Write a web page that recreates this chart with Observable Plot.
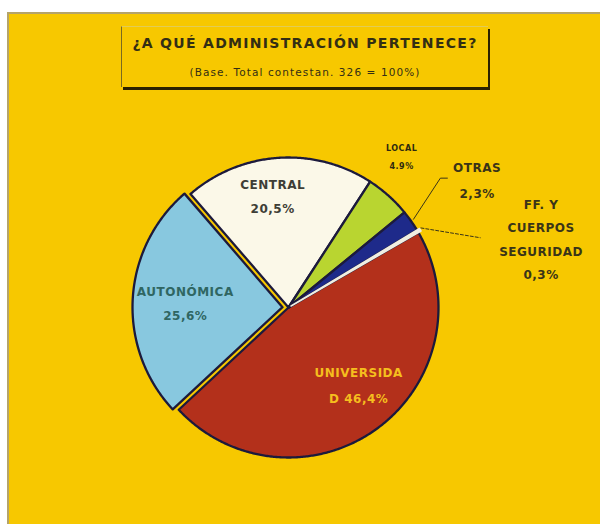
<!DOCTYPE html>
<html><head><meta charset="utf-8">
<script src="https://cdn.jsdelivr.net/npm/d3@7"></script>
<script src="https://cdn.jsdelivr.net/npm/@observablehq/plot@0.6"></script>
<style>
html,body{margin:0;padding:0;background:#fff;}
#wrap{position:relative;width:600px;height:524px;overflow:hidden;font-family:"DejaVu Sans",sans-serif;}
#panel{position:absolute;left:7px;top:12px;width:600px;height:520px;background:#F7C800;border-left:2px solid #b5a46a;border-top:2px solid #b5a46a;}
#titlebox{position:absolute;left:121px;top:26px;width:366px;height:60px;background:#F7C800;border-left:1px solid #7a6a20;border-top:1px solid #e2cc55;box-shadow:2px 3px 0 #2b2200;text-align:center;color:#332e14;}
#t1{position:absolute;left:0;right:0;top:8px;font-size:14px;font-weight:bold;letter-spacing:1.3px;}
#t2{position:absolute;left:0;right:0;top:39px;font-size:10.5px;letter-spacing:1.1px;}
#chart{position:absolute;left:0;top:0;}
</style>
</head><body>
<div id="wrap">
  <div id="panel"></div>
  <div id="chart"></div>
  <div id="titlebox"><div id="t1"></div><div id="t2"></div></div>
</div>
<script>
// ---- data ----
const title = "¿A QUÉ ADMINISTRACIÓN PERTENECE?";
const subtitle = "(Base. Total contestan. 326 = 100%)";
const categories = ["UNIVERSIDA\nD", "AUTONÓMICA", "CENTRAL", "LOCAL", "OTRAS", "FF. Y\nCUERPOS\nSEGURIDAD"];
const values = [46.4, 25.6, 20.5, 4.9, 2.3, 0.3];
const valueLabels = ["46,4%", "25,6%", "20,5%", "4.9%", "2,3%", "0,3%"];

// ---- styles / layout ----
const colors = ["#B3301B", "#88C8DF", "#FBF8E8", "#B9D530", "#1E2A8A", "#F1EEE2"];
const textColors = ["#F5BE1E", "#2F6662", "#3e3e36", "#2e2a10", "#3a3418", "#3a3418"];
const fontSizes = [12, 12, 12, 8, 12, 12];
const lineHeights = [2.2, 2.0, 2.0, 2.3, 2.2, 1.95];
const joiners = [" ", "\n", "\n", "\n", "\n", "\n"];
const explode = [0, 6, 0, 0, 0, 3];
const labelShift = [-7, 1, -4, -5.4, 0.5, 15];   // degrees
const labelRadius = [0.68, 0.65, 0.77, 1.27, 1.53, 1.73];
const cx = 288, cy = 307, R = 150;
const startDeg = 60;

document.getElementById("t1").textContent = title;
document.getElementById("t2").textContent = subtitle;

const rad = d => d * Math.PI / 180;
const arcs = d3.pie().sort(null).value(d => d)
  .startAngle(rad(startDeg)).endAngle(rad(startDeg) + 2 * Math.PI)(values);

const pt = (a, r, ox = 0, oy = 0) => ({x: cx + ox + r * Math.sin(a), y: cy + oy - r * Math.cos(a)});

const marks = [];
arcs.forEach((a, i) => {
  const mid = (a.startAngle + a.endAngle) / 2;
  const ox = explode[i] * Math.sin(mid), oy = -explode[i] * Math.cos(mid);
  const n = Math.max(2, Math.ceil((a.endAngle - a.startAngle) / rad(0.5)));
  const pts = [pt(0, 0, ox, oy)];
  for (let k = 0; k <= n; k++) pts.push(pt(a.startAngle + (a.endAngle - a.startAngle) * k / n, R, ox, oy));
  pts.push(pt(0, 0, ox, oy));
  const isTiny = values[i] < 1;
  marks.push(Plot.line(pts, {x: "x", y: "y", fill: colors[i],
    stroke: isTiny ? colors[i] : "#1c1a3c", strokeWidth: isTiny ? 1.6 : 2.3,
    strokeLinejoin: "round"}));
});

// leader lines (OTRAS solid, FF dashed)
const aO = arcs[4];
const midO = (aO.startAngle + aO.endAngle) / 2;
const p1 = pt(midO, R * 1.02), p2 = pt(midO - rad(5.2), R * 1.33);
const leaderO = [p1, p2, {x: p2.x + 7, y: p2.y}];
marks.push(Plot.line(leaderO, {x: "x", y: "y", stroke: "#3a3418", strokeWidth: 1}));
const leaderF = [pt(rad(59), R * 1.03), pt(rad(70), R * 1.36)];
marks.push(Plot.line(leaderF, {x: "x", y: "y", stroke: "#3a3418", strokeWidth: 1, strokeDasharray: "3,2"}));

// labels
arcs.forEach((a, i) => {
  const mid = (a.startAngle + a.endAngle) / 2;
  const ox = explode[i] * Math.sin(mid), oy = -explode[i] * Math.cos(mid);
  const p = pt(mid + rad(labelShift[i]), R * labelRadius[i], ox, oy);
  marks.push(Plot.text([{...p, t: categories[i] + joiners[i] + valueLabels[i]}], {
    x: "x", y: "y", text: "t", fill: textColors[i], fontSize: fontSizes[i],
    fontWeight: "bold", lineHeight: lineHeights[i], textAnchor: "middle", fontFamily: "DejaVu Sans"
  }));
});

const chart = Plot.plot({
  width: 600, height: 524,
  margin: 0,
  style: {background: "transparent", overflow: "visible", letterSpacing: "0.5px"},
  x: {domain: [0, 600], range: [0, 600], axis: null},
  y: {domain: [0, 524], range: [0, 524], axis: null},
  marks
});
document.getElementById("chart").appendChild(chart);
</script>
</body></html>
